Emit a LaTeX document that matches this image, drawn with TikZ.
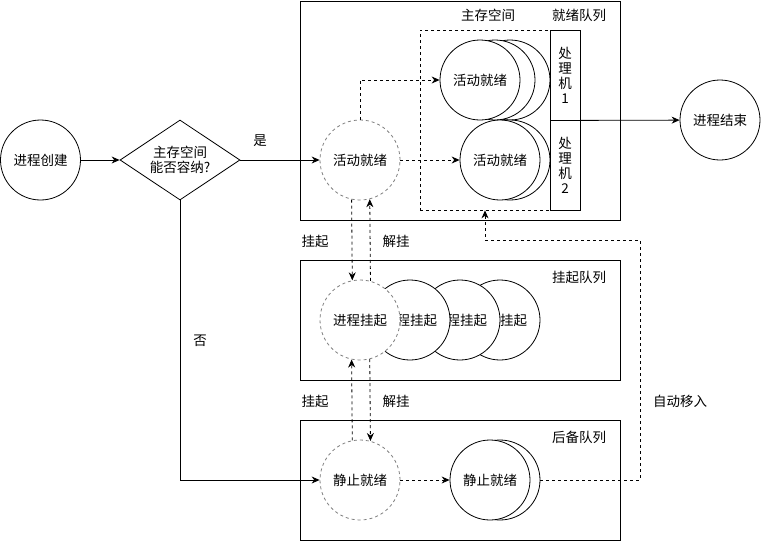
\documentclass[tikz,border=0pt]{standalone}
\usepackage{fontspec}
\setmainfont{Noto Sans CJK SC}
\usetikzlibrary{arrows.meta,shapes.geometric,positioning,calc}

\begin{document}
\begin{tikzpicture}[x=1pt,y=-1pt,line width=0.8pt,
	every node/.style={font=\fontsize{13.5}{15}\selectfont},
	state/.style={circle,draw,fill=white,minimum size=80pt,inner sep=0pt},
	ghost/.style={state,draw=gray,dash pattern=on 3pt off 3pt},
	queue/.style={draw,minimum width=320pt,inner sep=0pt},
	cpu/.style={draw,fill=white,minimum width=30pt,minimum height=90pt,inner sep=0pt,align=center},
	flow/.style={-{Stealth[length=8pt,width=7pt]}},
	hint/.style={flow,dash pattern=on 3pt off 3pt}
	]
	\useasboundingbox[fill=white] (0,0) rectangle (761,541);
	\node[queue,minimum height=219pt] (mainbox) at (460,110.5) {};
	\node[queue,minimum height=120pt] (susbox) at (460,320) {};
	\node[queue,minimum height=120pt] (bakbox) at (460,480) {};
	\node[draw,dash pattern=on 3pt off 3pt,minimum width=130pt,minimum height=180pt,inner sep=0pt] (mem) at (485,120) {};
	\node (memlbl) at (488,15) {主存空间};
	\node (rdylbl) at (579,15) {就绪队列};
	\node (suslbl) at (579,277) {挂起队列};
	\node (baklbl) at (579,437) {后备队列};
	\node[state] (born) at (40.5,160) {进程创建};
	\node[diamond,draw,fill=white,aspect=1.5,minimum width=120pt,minimum height=80pt,inner sep=0pt,align=center] (fit) at (180,160) {主存空间\\能否容纳?};
	\node[ghost] (act) at (360,160) {活动就绪};
	\node[state] (rdy1c) at (510,80) {};
	\node[state] (rdy1b) at (495,80) {};
	\node[state] (rdy1) at (480,80) {活动就绪};
	\node[state] (rdy2b) at (510,160) {};
	\node[state] (rdy2) at (500,160) {活动就绪};
	\node[cpu] (cpu1) at (565,75) {处\\理\\机\\1};
	\node[cpu] (cpu2) at (565,165) {处\\理\\机\\2};
	\node[state] (done) at (720,120) {进程结束};
	\node[state] (sus4) at (500,320) {进程挂起};
	\node[state] (sus3) at (460,320) {进程挂起};
	\node[state] (sus2) at (410,320) {进程挂起};
	\node[ghost] (sus) at (360,320) {进程挂起};
	\node[ghost] (sta) at (360,480) {静止就绪};
	\node[state] (bak2) at (500,480) {};
	\node[state] (bak) at (490,480) {静止就绪};
	\node (yes) at (260,141) {是};
	\node (no) at (200,341) {否};
	\node (hang1) at (315,241) {挂起};
	\node (free1) at (396,241) {解挂};
	\node (hang2) at (315,401) {挂起};
	\node (free2) at (396,401) {解挂};
	\node (auto) at (680,401) {自动移入};
	\coordinate (turn) at (640,240);
	\draw[flow] (born) -- (fit);
	\draw[flow] (fit) -- (act);
	\draw[flow] (fit.south) |- (sta);
	\draw[hint] (act) |- (rdy1);
	\draw[hint] (act) -- (rdy2);
	\draw[hint] (act.258.5) -- (sus.101.5);
	\draw[hint] (sus.75.5) -- (act.284.5);
	\draw[hint] (sta.101.5) -- (sus.258.5);
	\draw[hint] (sus.284.5) -- (sta.75.5);
	\draw[hint] (sta) -- (bak);
	\draw[hint] (bak2.east) -| (turn) -| (mem.south);
	\draw[flow] (cpu1.south east) -- (done);
\end{tikzpicture}
\end{document}
